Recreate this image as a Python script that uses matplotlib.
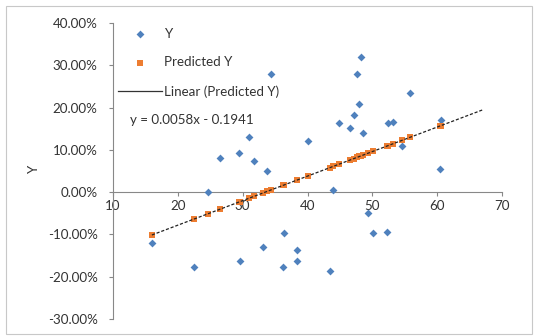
import numpy as np
import matplotlib
matplotlib.use("Agg")
import matplotlib.pyplot as plt
from matplotlib.patches import Rectangle
from matplotlib.lines import Line2D
from matplotlib.ticker import FuncFormatter

x_vals = [16.0, 22.5, 24.7, 26.5, 29.4, 29.6, 30.9, 31.8, 33.1, 33.8, 34.4,
          36.2, 36.4, 38.4, 38.4, 40.1, 43.5, 44.0, 44.9, 46.6, 47.1, 47.7,
          48.0, 48.3, 48.6, 49.4, 50.1, 52.2, 52.4, 53.2, 54.6, 55.8, 60.5, 60.6]
y_vals = [-0.120, -0.177, 0.000, 0.080, 0.092, -0.163, 0.130, 0.073, -0.130,
          0.050, 0.279, -0.177, -0.097, -0.137, -0.163, 0.120, -0.187, 0.005,
          0.163, 0.151, 0.182, 0.280, 0.208, 0.320, 0.139, -0.050, -0.097,
          -0.095, 0.163, 0.165, 0.109, 0.234, 0.054, 0.170]
pred_vals = [-0.1013, -0.0636, -0.0508, -0.0404, -0.0236, -0.0224, -0.0149,
             -0.0097, -0.0021, 0.0019, 0.0054, 0.0159, 0.0170, 0.0286, 0.0286,
             0.0385, 0.0582, 0.0611, 0.0663, 0.0762, 0.0791, 0.0826, 0.0843,
             0.0860, 0.0878, 0.0924, 0.0965, 0.1087, 0.1098, 0.1145, 0.1226,
             0.1295, 0.1568, 0.1574]
forecast_forward = 6.5
equation_text = "y = 0.0058x - 0.1941"
y_ticks = [-0.3, -0.2, -0.1, 0.0, 0.1, 0.2, 0.3, 0.4]
x_ticks = [10, 20, 30, 40, 50, 60, 70]

plt.rcParams['font.family'] = ['Lato', 'DejaVu Sans']
FS = 9.6

fig = plt.figure(figsize=(5.36, 3.36), dpi=100)
ax = fig.add_axes([113/536, 1-319/336, 389/536, 296/336])

blue = '#4F81BD'
orange = '#ED7D31'

h1 = ax.scatter(x_vals, y_vals, marker='D', s=16, color=blue, zorder=3, label='Y', linewidths=0)
h2 = ax.scatter(x_vals, pred_vals, marker='s', s=20, color=orange, zorder=3, label='Predicted Y', linewidths=0)

coef = np.polyfit(x_vals, pred_vals, 1)
xt = np.array([min(x_vals), max(x_vals) + forecast_forward])
ax.plot(xt, np.polyval(coef, xt), color='#222222', lw=0.9, ls=(0, (2.5, 1.5)), zorder=4)
h3 = Line2D([], [], color='#333333', lw=0.9, label='Linear (Predicted Y)')

ax.set_xlim(10, 70)
ax.set_ylim(-0.3, 0.4)
ax.set_xticks(x_ticks)
ax.set_yticks(y_ticks)
ax.yaxis.set_major_formatter(FuncFormatter(lambda v, p: f"{v*100:.2f}%"))

ax.spines['top'].set_visible(False)
ax.spines['right'].set_visible(False)
ax.spines['bottom'].set_position(('data', 0))
for s in ('left', 'bottom'):
    ax.spines[s].set_color('#888888')
    ax.spines[s].set_linewidth(0.8)
ax.tick_params(axis='both', colors='#888888', labelcolor='#333333', labelsize=FS,
               length=3, width=0.8, direction='out')
ax.tick_params(axis='x', pad=3)
ax.tick_params(axis='y', pad=8)
ax.set_ylabel('Y', fontsize=FS, color='#333333')
ax.yaxis.set_label_coords(-0.188, 0.503)

ax.text(0.044, 0.672, equation_text, transform=ax.transAxes, fontsize=FS,
        color='#333333', va='center', ha='left')

leg = ax.legend(handles=[h1, h2, h3], loc='upper left', bbox_to_anchor=(0.0, 1.0),
                frameon=False, fontsize=FS, labelspacing=1.25, handlelength=3.3,
                handletextpad=0.2, borderpad=0.35, borderaxespad=0.0)
for t in leg.get_texts():
    t.set_color('#333333')

fig.patches.append(Rectangle((6/536, 2/336), 526/536, 328/336, transform=fig.transFigure,
                             fill=False, edgecolor='#c8c8c8', lw=0.8))

fig.savefig('out.png', dpi=100)
